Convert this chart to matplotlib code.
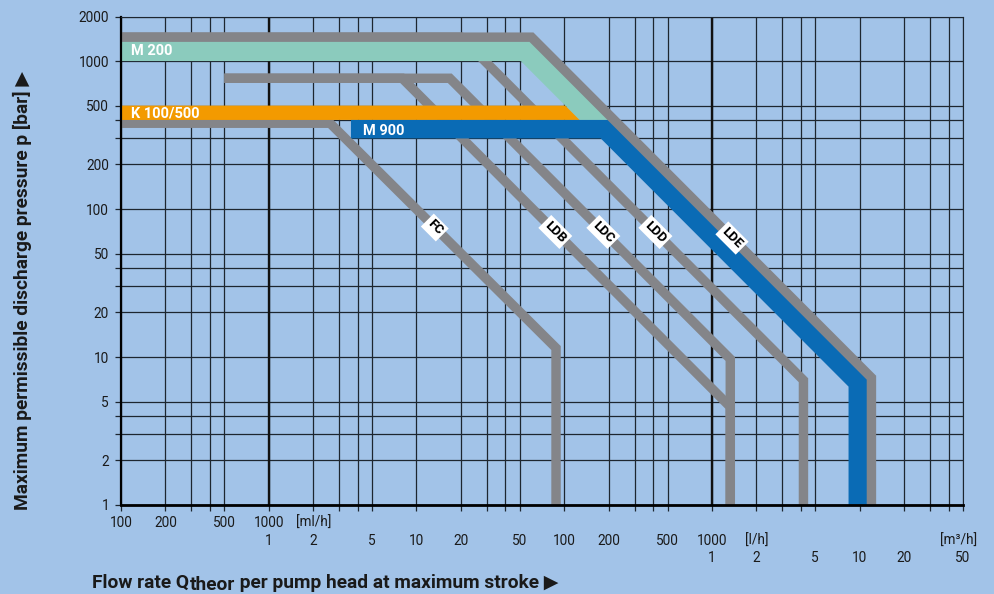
import matplotlib.pyplot as plt
from matplotlib.ticker import FixedLocator, NullFormatter, NullLocator

plt.rcParams['font.family'] = ['Roboto', 'DejaVu Sans']

# flow rate in l/h, pressure in bar
fc_q = [0.1, 2.6, 88, 88]
fc_p = [380, 380, 11.5, 0.5]
ldb_q = [0.5, 8, 1330, 1330]
ldb_p = [765, 765, 4.6, 0.5]
ldc_q = [0.5, 16.8, 1330, 1330]
ldc_p = [765, 765, 9.7, 0.5]
ldd_q = [0.1, 20, 4160, 4160]
ldd_p = [1450, 1450, 6.97, 0.5]
lde_q = [0.1, 60, 12000, 12000]
lde_p = [1450, 1450, 7.25, 0.5]

# coloured ranges
m200_q = [0.1, 50.8, 127, 217.5, 60, 0.1]
m200_p = [1000, 1000, 400, 400, 1450, 1450]
k100_q = [0.1, 101.6, 127, 0.1]
k100_p = [500, 500, 400, 400]
m900_q = [3.6, 3.6, 217.5, 12000, 12000, 8400, 8400, 176.7]
m900_p = [300, 400, 400, 7.25, 0.5, 0.5, 6.31, 300]

band_names = ['M 200', 'K 100/500', 'M 900']
band_lbl_q = [0.117, 0.117, 4.35]
band_lbl_p = [1170, 445, 337]

line_names = ['FC', 'LDB', 'LDC', 'LDD', 'LDE']
line_lbl_q = [13.3, 87, 184, 414, 1366]
line_lbl_p = [75, 70, 70, 70, 63.7]

y_grid = [1, 2, 3, 4, 5, 10, 20, 30, 40, 50, 100, 200, 300, 400, 500, 1000, 2000]
y_lbls = ['1', '2', '', '', '5', '10', '20', '', '', '50', '100', '200', '', '', '500', '1000', '2000']
x_grid = [m * 10 ** e for e in range(-1, 5) for m in (1, 2, 3, 4, 5)]

ml_ticks = [100, 200, 500, 1000]
l_ticks = [1, 2, 5, 10, 20, 50, 100, 200, 500, 1000]
m3_ticks = [1, 2, 5, 10, 20, 50]

bg = '#a2c3e8'
grey = '#848589'
gridc = '#1d2630'

fig = plt.figure(figsize=(9.94, 5.94), dpi=100, facecolor=bg)
ax = fig.add_axes([121 / 994, 89 / 594, 842 / 994, 488.5 / 594])
ax.set_facecolor(bg)
ax.set_xscale('log')
ax.set_yscale('log')
ax.set_xlim(0.1, 50000)
ax.set_ylim(1, 2000)

ax.xaxis.set_major_locator(FixedLocator(x_grid))
ax.xaxis.set_major_formatter(NullFormatter())
ax.xaxis.set_minor_locator(NullLocator())
ax.yaxis.set_major_locator(FixedLocator(y_grid))
ax.yaxis.set_minor_locator(NullLocator())
ax.set_yticklabels(y_lbls)
ax.tick_params(axis='both', direction='out', length=4.3, width=0.9, color=gridc,
               labelsize=9.8, labelcolor='#1a1a1a', pad=4.3)
ax.set_axisbelow(True)
ax.grid(True, color=gridc, lw=0.9)
for q in (1, 1000):
    ax.axvline(q, color='#111111', lw=1.7, zorder=0.6)

for s in ('top', 'right'):
    ax.spines[s].set_linewidth(0.8)
    ax.spines[s].set_color(gridc)
ax.spines['left'].set_linewidth(1.6)
ax.spines['bottom'].set_linewidth(2.0)
for s in ax.spines.values():
    s.set_zorder(7)

lw = 6.8
for q, p in [(fc_q, fc_p), (ldb_q, ldb_p), (ldc_q, ldc_p), (ldd_q, ldd_p)]:
    ax.plot(q, p, color=grey, lw=lw, solid_joinstyle='miter', solid_capstyle='butt', zorder=3)

ax.fill(m200_q, m200_p, color='#8bcbbd', lw=0, zorder=4)
ax.fill(k100_q, k100_p, color='#f39a00', lw=0, zorder=4)
ax.fill(m900_q, m900_p, color='#0a6bb5', lw=0, zorder=4)
ax.plot(lde_q, lde_p, color=grey, lw=lw, solid_joinstyle='miter', solid_capstyle='butt', zorder=5)

for name, q, p in zip(band_names, band_lbl_q, band_lbl_p):
    ax.text(q, p, name, color='white', fontsize=10.5, fontweight='bold',
            ha='left', va='center', zorder=6)

for name, q, p in zip(line_names, line_lbl_q, line_lbl_p):
    ax.text(q, p, name, color='black', fontsize=9.5, fontweight='bold', rotation=-45,
            rotation_mode='anchor', ha='center', va='center', zorder=6,
            bbox=dict(boxstyle='square,pad=0.2', fc='white', ec='none'))

# flow tick labels in three unit rows
tr = ax.get_xaxis_transform()
row1, row2, row3 = -0.0368, -0.0737, -0.1085
tk = dict(fontsize=9.8, color='#1a1a1a', ha='center', va='center', transform=tr)
for v in ml_ticks:
    ax.text(v / 1000, row1, str(v), **tk)
ax.text(2, row1, '[ml/h]', **tk)
for v in l_ticks:
    ax.text(v, row2, str(v), **tk)
ax.text(2000, row2, '[l/h]', **tk)
for v in m3_ticks:
    ax.text(v * 1000, row3, str(v), **tk)
ax.text(47000, row2, '[m³/h]', **tk)

lab = dict(fontsize=13.8, fontweight='bold', color='#1a1a1a')
t1 = fig.text(92 / 994, 1 - 587.5 / 594, 'Flow rate Q', ha='left', va='baseline', **lab)
t2 = ax.annotate('theor', xy=(1, 0), xycoords=t1, xytext=(0.3, -1.8), textcoords='offset points',
                 ha='left', va='bottom', annotation_clip=False, **lab)
ax.annotate(' per pump head at maximum stroke \u25b6', xy=(1, 0), xycoords=t2, xytext=(0, 1.8),
            textcoords='offset points', ha='left', va='bottom', annotation_clip=False, **lab)
fig.text(22 / 994, 1 - 290 / 594, 'Maximum permissible discharge pressure p [bar] \u25b6',
         rotation=90, ha='center', va='center', **lab)

fig.savefig('out.png', dpi=100, facecolor=bg)
